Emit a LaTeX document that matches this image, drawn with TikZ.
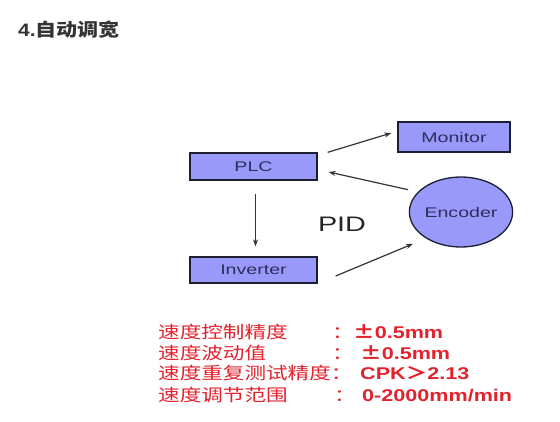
\documentclass[tikz,border=0pt]{standalone}
\usepackage{fontspec}
\usetikzlibrary{arrows.meta,shapes.geometric}
\setmainfont{Liberation Sans}
\newfontfamily\boxfont[FakeStretch=1.4]{Liberation Sans}
\newfontfamily\pidfont[FakeStretch=1.37]{Liberation Sans}
\newfontfamily\valfont[FakeStretch=1.27]{Liberation Sans}
\newfontfamily\cjk[FakeStretch=1.27]{Noto Sans CJK SC}
\newfontfamily\titlecjk[FakeStretch=1.17]{Noto Sans CJK SC}
\newfontfamily\titlelatin[FakeStretch=1.17]{Liberation Sans}
\definecolor{boite}{RGB}{153,153,250}
\definecolor{bord}{RGB}{30,30,50}
\definecolor{texte}{RGB}{45,45,95}
\definecolor{rouge}{RGB}{226,34,44}
\definecolor{titre}{RGB}{51,51,51}
\begin{document}
\begin{tikzpicture}[x=1pt,y=-1pt,
	bloc/.style={draw=bord,line width=1.3pt,fill=boite,inner sep=0pt,
		text=texte,font=\boxfont\fontsize{14}{16}\selectfont},
	fleche/.style={draw=black!80,line width=1.2pt,-{Stealth[length=7pt,width=5pt]}},
	ligne/.style={anchor=west,inner sep=0pt,text=rouge,text height=14pt,text depth=3pt},
	valeur/.style={ligne,font=\valfont\bfseries\fontsize{17}{20}\selectfont}]
	\useasboundingbox (0,0) rectangle (560,421);
	%Titre
	\node[anchor=west,inner sep=0pt,text=titre] (T) at (18,30)
		{\titlelatin\bfseries\fontsize{18}{20}\selectfont 4.\titlecjk 自动调宽};
	%Noeuds du schema
	\node[bloc,minimum width=127,minimum height=27] (PLC) at (253.5,166.5) {PLC};
	\node[bloc,minimum width=112,minimum height=30] (Monitor) at (454,137) {Monitor};
	\node[bloc,minimum width=127,minimum height=26] (Inverter) at (253.5,270) {Inverter};
	\node[bloc,ellipse,minimum width=100,minimum height=70] (Encoder) at (461,212) {Encoder};
	\node[inner sep=0pt,text=black!85,font=\pidfont\fontsize{21}{24}\selectfont] (PID) at (342,224) {PID};
	%Fleches
	\draw[fleche] ([xshift=10pt]PLC.north east) -- ([xshift=-6pt,yshift=4pt]Monitor.west);
	\draw[fleche,shorten <=10pt] (Encoder.155) -- ([xshift=11pt,yshift=-5.5pt]PLC.east);
	\draw[fleche,shorten <=13pt,shorten >=10pt] ([xshift=2pt]PLC.south) -- ([xshift=2pt]Inverter.north);
	\draw[fleche,shorten >=14pt] ([xshift=18pt,yshift=-6pt]Inverter.east) -- (Encoder.217);
	%Caracteristiques
	\node[ligne,font=\cjk\fontsize{17}{20}\selectfont] (L1) at (158,333) {速度控制精度};
	\node[ligne,font=\cjk\fontsize{17}{20}\selectfont] (L2) at (158,354) {速度波动值};
	\node[ligne,font=\cjk\fontsize{17}{20}\selectfont] (L3) at (158,374) {速度重复测试精度：};
	\node[ligne,font=\cjk\fontsize{17}{20}\selectfont] (L4) at (158,396) {速度调节范围};
	\node[ligne,font=\cjk\fontsize{17}{20}\selectfont] (C1) at (332,333) {：};
	\node[ligne,font=\cjk\fontsize{17}{20}\selectfont] (C2) at (332,354) {：};
	\node[ligne,font=\cjk\fontsize{17}{20}\selectfont] (C4) at (334,396) {：};
	\node[valeur] (V1) at (353,333) {{\cjk ±}0.5mm};
	\node[valeur] (V2) at (360,354) {{\cjk ±}0.5mm};
	\node[valeur] (V3) at (360,374) {CPK{\cjk ＞}2.13};
	\node[valeur] (V4) at (362,396) {0-2000mm/min};
\end{tikzpicture}
\end{document}
